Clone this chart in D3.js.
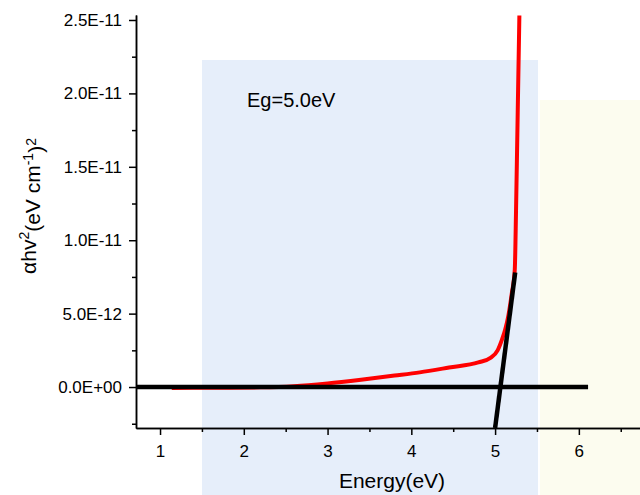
<!DOCTYPE html>
<html>
<head>
<meta charset="utf-8">
<script src="https://cdn.jsdelivr.net/npm/d3@7"></script>
<style>
body{margin:0;background:#fff;}
svg{display:block;font-family:Arial,"Liberation Sans",sans-serif;}
.axis path,.axis line{stroke:#000;stroke-width:1.5px;}
.axis text{font-size:17px;fill:#000;}
</style>
</head>
<body>
<div id="chart"></div>
<script>
// absorption data (alpha*hv)^2, values in units of 1E-12
var energy = [1.14, 1.6, 2.2, 2.6, 3.0, 3.4, 3.8, 4.1, 4.45, 4.8, 4.95, 5.03, 5.08, 5.12, 5.16, 5.2, 5.235, 5.25, 5.265, 5.28, 5.29];
var absorb = [-0.06, -0.05, -0.02, 0.06, 0.25, 0.5, 0.78, 1.0, 1.33, 1.68, 2.0, 2.5, 3.2, 3.9, 4.9, 6.4, 8.0, 12.0, 17.0, 22.0, 25.3];

// fit lines (tangent + baseline), values in 1E-12
var tangentE = [5.0, 5.24];
var tangentY = [-2.79, 7.8];
var baseE = [0.72, 6.11];
var baseY = [0, 0];

var xTicks = [1, 2, 3, 4, 5, 6];
var xMinor = [1.5, 2.5, 3.5, 4.5, 5.5, 6.5];
var yTicks = [0, 5, 10, 15, 20, 25];
var yMinor = [-2.5, 2.5, 7.5, 12.5, 17.5, 22.5];

var labelText = "Eg=5.0eV";

var W = 640, H = 495;
var margin = {top:15, right:0, bottom:67, left:136};
var width = W - margin.left - margin.right,
    height = H - margin.top - margin.bottom;

var svg = d3.select("#chart").append("svg")
    .attr("width", W)
    .attr("height", H);

// faint watermark backdrop
svg.append("rect")
    .attr("x", 540).attr("y", 100)
    .attr("width", 100).attr("height", 395)
    .style("fill", "#fcfcef");
svg.append("rect")
    .attr("x", 202).attr("y", 60)
    .attr("width", 336).attr("height", 435)
    .style("fill", "#e6eefa");

var x = d3.scaleLinear().domain([0.713, 6.73]).range([0, width]);
var y = d3.scaleLinear().domain([-2.79, 25.34]).range([height, 0]);

var fmtE = function(v){
    if(v == 0){ return "0.0E+00"; }
    var parts = (v * 1e-12).toExponential(1).split("e");
    var ex = +parts[1];
    var sign = ex < 0 ? "-" : "+";
    var a = Math.abs(ex);
    return parts[0] + "E" + sign + (a < 10 ? "0" + a : a);
};

var g = svg.append("g")
    .attr("transform", "translate(" + margin.left + "," + margin.top + ")");

g.append("clipPath").attr("id", "clip")
  .append("rect")
    .attr("x", 0).attr("y", 0)
    .attr("width", width).attr("height", height);

var plot = g.append("g").attr("clip-path", "url(#clip)");

var line = d3.line()
    .x(function(d){ return x(d[0]); })
    .y(function(d){ return y(d[1]); });

var redData = energy.map(function(e, i){ return [e, absorb[i]]; });

plot.append("path")
    .datum(redData)
    .attr("fill", "none")
    .attr("stroke", "#ff0000")
    .attr("stroke-width", 4)
    .attr("stroke-linejoin", "round")
    .attr("d", line.curve(d3.curveMonotoneX));

line.curve(d3.curveLinear);

plot.append("path")
    .datum(baseE.map(function(e, i){ return [e, baseY[i]]; }))
    .attr("fill", "none")
    .attr("stroke", "#000")
    .attr("stroke-width", 4.5)
    .attr("d", line);

plot.append("path")
    .datum(tangentE.map(function(e, i){ return [e, tangentY[i]]; }))
    .attr("fill", "none")
    .attr("stroke", "#000")
    .attr("stroke-width", 4.5)
    .attr("d", line);

// axes
g.append("g")
    .attr("class", "axis")
    .attr("transform", "translate(0," + height + ")")
    .call(d3.axisBottom(x).tickValues(xMinor).tickSize(4).tickSizeOuter(0).tickFormat(""));

g.append("g")
    .attr("class", "axis")
    .attr("transform", "translate(0," + height + ")")
    .call(d3.axisBottom(x).tickValues(xTicks).tickSize(7).tickSizeOuter(0).tickPadding(10).tickFormat(d3.format("d")));

g.append("g")
    .attr("class", "axis")
    .call(d3.axisLeft(y).tickValues(yMinor).tickSize(4).tickSizeOuter(0).tickFormat(""));

g.append("g")
    .attr("class", "axis")
    .call(d3.axisLeft(y).tickValues(yTicks).tickSize(7).tickSizeOuter(0).tickPadding(7).tickFormat(fmtE));

// titles
svg.append("text")
    .attr("x", 392)
    .attr("y", 488)
    .attr("text-anchor", "middle")
    .style("font-size", "21px")
    .text("Energy(eV)");

var yt = svg.append("text")
    .attr("transform", "translate(36,206) rotate(-90)")
    .attr("text-anchor", "middle")
    .style("font-size", "21px");
yt.append("tspan").text("\u03b1hv");
yt.append("tspan").attr("dy", "-0.5em").style("font-size", "14px").text("2");
yt.append("tspan").attr("dy", "0.5em").text("(eV cm");
yt.append("tspan").attr("dy", "-0.5em").style("font-size", "14px").text("-1");
yt.append("tspan").attr("dy", "0.5em").text(")");
yt.append("tspan").attr("dy", "-0.5em").style("font-size", "14px").text("2");

svg.append("text")
    .attr("x", 247)
    .attr("y", 107)
    .style("font-size", "20px")
    .text(labelText);
</script>
</body>
</html>
